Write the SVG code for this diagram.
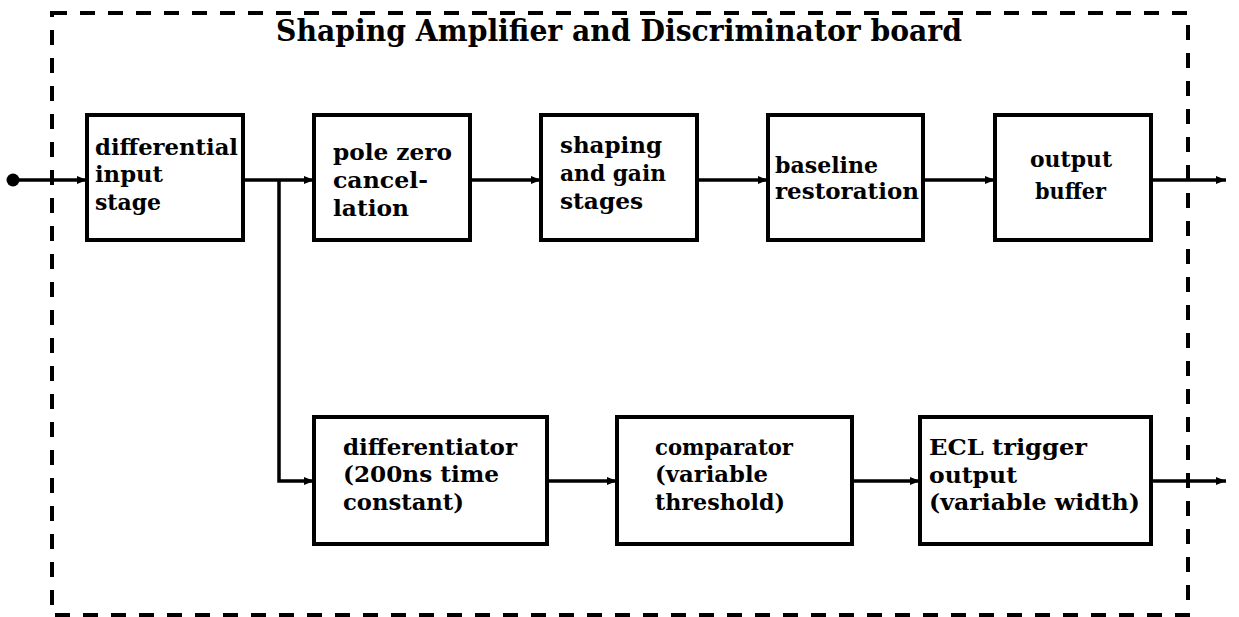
<svg xmlns="http://www.w3.org/2000/svg" width="1239" height="617" viewBox="0 0 1239 617">
<defs>
<marker id="ah" viewBox="0 0 10 10" refX="10" refY="5" markerWidth="3" markerHeight="3" orient="auto"><path d="M0,1 L10,5 L0,9 z" fill="#000"/></marker>
<style>
.box{fill:#fff;stroke:#000;stroke-width:4}
.t{font-family:"DejaVu Serif","Liberation Serif",serif;font-weight:bold;font-size:23px;fill:#000}
.w{fill:none;stroke:#000;stroke-width:3.5}
.a{marker-end:url(#ah)}
</style>
</defs>
<rect width="1239" height="617" fill="#fff"/>
<rect x="52" y="13" width="1136" height="602" fill="none" stroke="#000" stroke-width="4" stroke-dasharray="15 13"/>
<text class="t" x="276" y="41" textLength="686" lengthAdjust="spacingAndGlyphs" style="font-size:29px">Shaping Amplifier and Discriminator board</text>
<g id="connectors">
<circle cx="13" cy="180" r="6.5" fill="#000"/>
<line class="w a" x1="13" y1="180" x2="87" y2="180"/>
<line class="w a" x1="243" y1="180" x2="314" y2="180"/>
<polyline class="w a" points="279,180 279,481 314,481"/>
<line class="w a" x1="470" y1="180" x2="541" y2="180"/>
<line class="w a" x1="697" y1="180" x2="768" y2="180"/>
<line class="w a" x1="923" y1="180" x2="995" y2="180"/>
<line class="w a" x1="1151" y1="180" x2="1226" y2="180"/>
<line class="w a" x1="547" y1="481" x2="617" y2="481"/>
<line class="w a" x1="852" y1="481" x2="920" y2="481"/>
<line class="w a" x1="1151" y1="481" x2="1226" y2="481"/>
</g>
<g id="n1"><rect class="box" x="87" y="115" width="156" height="125"/>
<text class="t" x="95" y="155" textLength="143" lengthAdjust="spacingAndGlyphs">differential</text><text class="t" x="95" y="182" textLength="68" lengthAdjust="spacingAndGlyphs">input</text><text class="t" x="95" y="210" textLength="66" lengthAdjust="spacingAndGlyphs">stage</text></g>
<g id="n2"><rect class="box" x="314" y="115" width="156" height="125"/>
<text class="t" x="333" y="160" textLength="119" lengthAdjust="spacingAndGlyphs">pole zero</text><text class="t" x="333" y="188" textLength="95" lengthAdjust="spacingAndGlyphs">cancel-</text><text class="t" x="333" y="216" textLength="76" lengthAdjust="spacingAndGlyphs">lation</text></g>
<g id="n3"><rect class="box" x="541" y="115" width="156" height="125"/>
<text class="t" x="560" y="153" textLength="102" lengthAdjust="spacingAndGlyphs">shaping</text><text class="t" x="560" y="181" textLength="106" lengthAdjust="spacingAndGlyphs">and gain</text><text class="t" x="560" y="209" textLength="83" lengthAdjust="spacingAndGlyphs">stages</text></g>
<g id="n4"><rect class="box" x="768" y="115" width="155" height="125"/>
<text class="t" x="775" y="173" textLength="103" lengthAdjust="spacingAndGlyphs">baseline</text><text class="t" x="775" y="199" textLength="144" lengthAdjust="spacingAndGlyphs">restoration</text></g>
<g id="n5"><rect class="box" x="995" y="115" width="156" height="125"/>
<text class="t" x="1030" y="167" textLength="82" lengthAdjust="spacingAndGlyphs">output</text><text class="t" x="1035" y="199" textLength="71" lengthAdjust="spacingAndGlyphs">buffer</text></g>
<g id="n6"><rect class="box" x="314" y="417" width="233" height="127"/>
<text class="t" x="343" y="455" textLength="174" lengthAdjust="spacingAndGlyphs">differentiator</text><text class="t" x="343" y="482" textLength="156" lengthAdjust="spacingAndGlyphs">(200ns time</text><text class="t" x="343" y="510" textLength="121" lengthAdjust="spacingAndGlyphs">constant)</text></g>
<g id="n7"><rect class="box" x="617" y="417" width="235" height="127"/>
<text class="t" x="655" y="455" textLength="138" lengthAdjust="spacingAndGlyphs">comparator</text><text class="t" x="655" y="482" textLength="113" lengthAdjust="spacingAndGlyphs">(variable</text><text class="t" x="655" y="510" textLength="130" lengthAdjust="spacingAndGlyphs">threshold)</text></g>
<g id="n8"><rect class="box" x="920" y="417" width="231" height="127"/>
<text class="t" x="929" y="455" textLength="158" lengthAdjust="spacingAndGlyphs">ECL trigger</text><text class="t" x="929" y="483" textLength="88" lengthAdjust="spacingAndGlyphs">output</text><text class="t" x="929" y="510" textLength="211" lengthAdjust="spacingAndGlyphs">(variable width)</text></g>
</svg>
